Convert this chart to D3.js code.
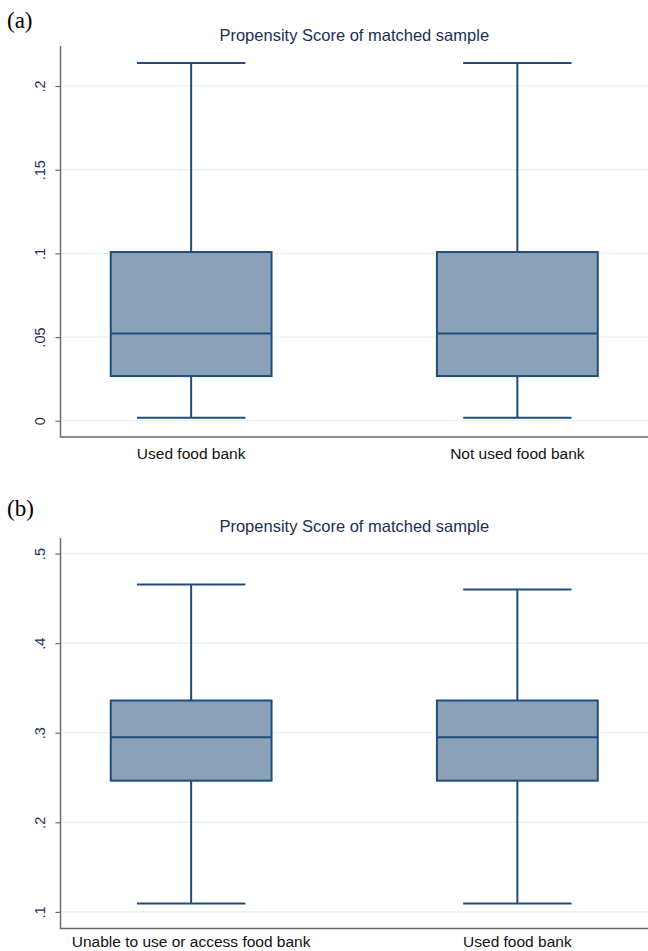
<!DOCTYPE html>
<html>
<head>
<meta charset="utf-8">
<script src="https://cdn.jsdelivr.net/npm/d3@7"></script>
<style>
  body { margin: 0; background: #fff; }
  text { font-family: "Liberation Sans", Arial, sans-serif; }
</style>
</head>
<body>
<div id="chart"></div>
<script>
// Panel (a) data
const titleA = "Propensity Score of matched sample";
const groupsA = ["Used food bank", "Not used food bank"];
const lowA = [0.0018, 0.0018];
const q1A = [0.0267, 0.0267];
const medA = [0.0522, 0.0522];
const q3A = [0.1008, 0.1008];
const highA = [0.2137, 0.2137];
const ticksA = [0, 0.05, 0.1, 0.15, 0.2];
const tickLabelsA = ["0", ".05", ".1", ".15", ".2"];

// Panel (b) data
const titleB = "Propensity Score of matched sample";
const groupsB = ["Unable to use or access food bank", "Used food bank"];
const lowB = [0.1094, 0.1094];
const q1B = [0.2465, 0.2465];
const medB = [0.2950, 0.2950];
const q3B = [0.3360, 0.3360];
const highB = [0.4655, 0.4600];
const ticksB = [0.1, 0.2, 0.3, 0.4, 0.5];
const tickLabelsB = [".1", ".2", ".3", ".4", ".5"];

function draw() {
    const width = 648, height = 951;

    const svg = d3.select("#chart")
        .append("svg")
        .attr("width", width)
        .attr("height", height);

    const navy = "#1f4c7b";
    const fill = "#8aa1b8";
    const textColor = "#1c2f55";

    function panel(opts) {
        const { tag, tagY, title, titleY, groups, low, q1, med, q3, high,
                ticks, tickLabels, top, bottom, domain, labelY } = opts;

        const left = 60.5, right = 648;

        const yScale = d3.scaleLinear()
            .domain(domain)
            .range([bottom, top]);

        const xScale = d3.scaleBand()
            .domain(groups)
            .range([left, right])
            .paddingInner(0.507)
            .paddingOuter(0.154);

        // panel tag
        svg.append("text")
            .attr("x", 7)
            .attr("y", tagY)
            .style("font-family", "'Liberation Serif', 'Times New Roman', serif")
            .style("font-size", "23px")
            .attr("fill", "#000")
            .text(tag);

        // title
        svg.append("text")
            .attr("x", (left + right) / 2)
            .attr("y", titleY)
            .attr("text-anchor", "middle")
            .style("font-size", "16.5px")
            .attr("fill", textColor)
            .text(title);

        // grid lines
        svg.append("g")
            .selectAll("line")
            .data(ticks)
            .join("line")
                .attr("x1", left)
                .attr("x2", right)
                .attr("y1", d => yScale(d))
                .attr("y2", d => yScale(d))
                .attr("stroke", "#e6eff2")
                .attr("stroke-width", 1.2);

        // y axis
        const yAxis = d3.axisLeft(yScale)
            .tickValues(ticks)
            .tickFormat((d, i) => tickLabels[i])
            .tickSize(5)
            .tickSizeOuter(0);

        const yAxisGroup = svg.append("g")
            .attr("transform", `translate(${left}, 0)`)
            .call(yAxis);

        yAxisGroup.select(".domain")
            .attr("d", `M0,${top}V${bottom}`)
            .attr("stroke", "#6b6b6b")
            .attr("stroke-width", 1.5);
        yAxisGroup.selectAll(".tick line")
            .attr("stroke", "#6b6b6b")
            .attr("stroke-width", 1.2);
        yAxisGroup.selectAll(".tick text")
            .attr("x", 0)
            .attr("y", -16)
            .attr("dy", 0)
            .attr("transform", "rotate(-90)")
            .attr("text-anchor", "middle")
            .attr("fill", textColor)
            .style("font-size", "14.5px")
            .style("font-family", "'Liberation Sans', Arial, sans-serif");

        // x axis line
        svg.append("line")
            .attr("x1", left - 0.75)
            .attr("x2", right)
            .attr("y1", bottom)
            .attr("y2", bottom)
            .attr("stroke", "#6b6b6b")
            .attr("stroke-width", 1.5);

        // category labels
        svg.append("g")
            .selectAll("text")
            .data(groups)
            .join("text")
                .attr("x", d => xScale(d) + xScale.bandwidth() / 2)
                .attr("y", labelY)
                .attr("text-anchor", "middle")
                .style("font-size", "15.5px")
                .attr("fill", "#111")
                .text(d => d);

        const boxes = svg.append("g")
            .selectAll("g")
            .data(groups)
            .join("g");

        const cx = d => xScale(d) + xScale.bandwidth() / 2;
        const capHalf = xScale.bandwidth() * 0.337;

        // whiskers
        boxes.append("line")
            .attr("x1", cx).attr("x2", cx)
            .attr("y1", (d, i) => yScale(high[i]))
            .attr("y2", (d, i) => yScale(q3[i]))
            .attr("stroke", navy).attr("stroke-width", 2);
        boxes.append("line")
            .attr("x1", cx).attr("x2", cx)
            .attr("y1", (d, i) => yScale(q1[i]))
            .attr("y2", (d, i) => yScale(low[i]))
            .attr("stroke", navy).attr("stroke-width", 2);

        // caps
        boxes.append("line")
            .attr("x1", d => cx(d) - capHalf).attr("x2", d => cx(d) + capHalf)
            .attr("y1", (d, i) => yScale(high[i]))
            .attr("y2", (d, i) => yScale(high[i]))
            .attr("stroke", navy).attr("stroke-width", 2);
        boxes.append("line")
            .attr("x1", d => cx(d) - capHalf).attr("x2", d => cx(d) + capHalf)
            .attr("y1", (d, i) => yScale(low[i]))
            .attr("y2", (d, i) => yScale(low[i]))
            .attr("stroke", navy).attr("stroke-width", 2);

        // box
        boxes.append("rect")
            .attr("x", d => xScale(d))
            .attr("width", xScale.bandwidth())
            .attr("y", (d, i) => yScale(q3[i]))
            .attr("height", (d, i) => yScale(q1[i]) - yScale(q3[i]))
            .attr("fill", fill)
            .attr("stroke", navy)
            .attr("stroke-width", 2);

        // median
        boxes.append("line")
            .attr("x1", d => xScale(d))
            .attr("x2", d => xScale(d) + xScale.bandwidth())
            .attr("y1", (d, i) => yScale(med[i]))
            .attr("y2", (d, i) => yScale(med[i]))
            .attr("stroke", navy).attr("stroke-width", 2);
    }

    panel({
        tag: "(a)", tagY: 28, title: titleA, titleY: 40.5,
        groups: groupsA, low: lowA, q1: q1A, med: medA, q3: q3A, high: highA,
        ticks: ticksA, tickLabels: tickLabelsA,
        top: 46, bottom: 437, domain: [-0.0097, 0.2239], labelY: 459
    });

    panel({
        tag: "(b)", tagY: 516, title: titleB, titleY: 531.5,
        groups: groupsB, low: lowB, q1: q1B, med: medB, q3: q3B, high: highB,
        ticks: ticksB, tickLabels: tickLabelsB,
        top: 538, bottom: 928.5, domain: [0.0815, 0.5174], labelY: 947
    });
}

draw();
</script>
</body>
</html>
